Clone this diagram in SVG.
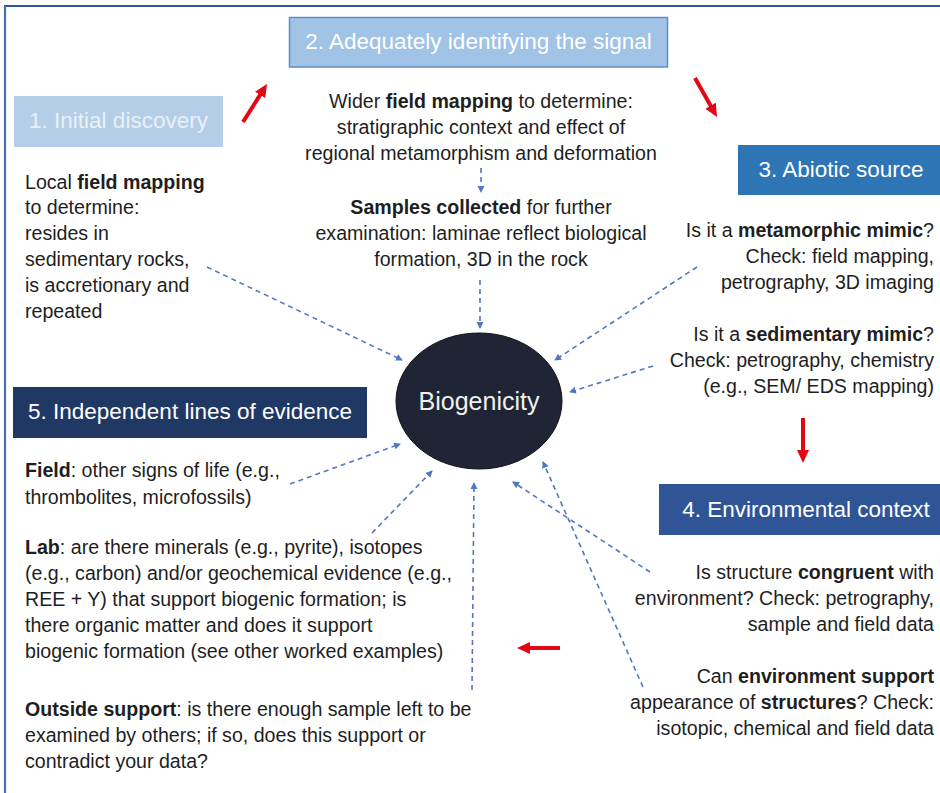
<svg xmlns="http://www.w3.org/2000/svg" width="940" height="793" viewBox="0 0 940 793">
<defs>
<style>
.t{font-family:"Liberation Sans",Arial,sans-serif;font-size:19.6px;fill:#1e1e1e}
.b{font-weight:bold}
.h{font-family:"Liberation Sans",Arial,sans-serif;font-size:22.5px;fill:#ffffff}
.c{text-anchor:middle}
.r{text-anchor:end}
.dash{stroke:#4f77c2;stroke-width:1.6;stroke-dasharray:5 4;fill:none}
.red{stroke:#e30613;stroke-width:4;fill:none}
</style>
<marker id="bh" markerUnits="userSpaceOnUse" markerWidth="8" markerHeight="8" refX="6" refY="3.5" orient="auto">
<path d="M0,0 L7,3.5 L0,7 z" fill="#4f77c2"/>
</marker>
<marker id="rh" markerUnits="userSpaceOnUse" markerWidth="14" markerHeight="13" refX="3" refY="6" orient="auto">
<path d="M0,0 L13,6 L0,12 z" fill="#e30613"/>
</marker>
</defs>
<rect width="940" height="793" fill="#ffffff"/>
<g id="frame">
<line x1="4" y1="6" x2="940" y2="6" stroke="#2f5597" stroke-width="2.2"/>
<line x1="5" y1="6" x2="5" y2="793" stroke="#4a6fb8" stroke-width="2.2"/>
</g>
<g id="connectors">
<line class="dash" x1="481" y1="168" x2="481" y2="192" marker-end="url(#bh)"/>
<line class="dash" x1="480" y1="280" x2="480" y2="328" marker-end="url(#bh)"/>
<line class="dash" x1="207" y1="267" x2="402" y2="360" marker-end="url(#bh)"/>
<line class="dash" x1="697" y1="267" x2="555" y2="360" marker-end="url(#bh)"/>
<line class="dash" x1="653" y1="366" x2="570" y2="392" marker-end="url(#bh)"/>
<line class="dash" x1="290" y1="484" x2="400" y2="444" marker-end="url(#bh)"/>
<line class="dash" x1="372" y1="533" x2="432" y2="471" marker-end="url(#bh)"/>
<line class="dash" x1="472" y1="690" x2="474" y2="483" marker-end="url(#bh)"/>
<line class="dash" x1="650" y1="572" x2="513" y2="482" marker-end="url(#bh)"/>
<line class="dash" x1="643" y1="687" x2="543" y2="462" marker-end="url(#bh)"/>
<line class="red" x1="243" y1="122" x2="261.7" y2="92.4" marker-end="url(#rh)"/>
<line class="red" x1="695" y1="78" x2="712.1" y2="108.3" marker-end="url(#rh)"/>
<line class="red" x1="803" y1="418" x2="803" y2="453" marker-end="url(#rh)"/>
<line class="red" x1="560" y1="648" x2="527" y2="648" marker-end="url(#rh)"/>
</g>
<g id="node1">
<rect x="14" y="96" width="209" height="51" fill="#b4cee8"/>
<text class="h c" x="118.5" y="128" style="fill:#e9f0f8">1. Initial discovery</text>
<text class="t" x="25" y="189">Local <tspan class="b">field mapping</tspan></text>
<text class="t" x="25" y="214">to determine:</text>
<text class="t" x="25" y="240">resides in</text>
<text class="t" x="25" y="266">sedimentary rocks,</text>
<text class="t" x="25" y="292">is accretionary and</text>
<text class="t" x="25" y="318">repeated</text>
</g>
<g id="node2">
<rect x="289.5" y="17.5" width="378" height="49.5" fill="#a0c3e6" stroke="#5f8dc6" stroke-width="1.5"/>
<text class="h c" x="478.5" y="49">2. Adequately identifying the signal</text>
<text class="t c" x="481" y="108">Wider <tspan class="b">field mapping</tspan> to determine:</text>
<text class="t c" x="481" y="134">stratigraphic context and effect of</text>
<text class="t c" x="481" y="160">regional metamorphism and deformation</text>
<text class="t c" x="481" y="214"><tspan class="b">Samples collected</tspan> for further</text>
<text class="t c" x="481" y="240">examination: laminae reflect biological</text>
<text class="t c" x="481" y="266">formation, 3D in the rock</text>
</g>
<g id="node3">
<rect x="738" y="145" width="202" height="50" fill="#2e75b6"/>
<text class="h c" x="841" y="177">3. Abiotic source</text>
<text class="t r" x="934" y="237">Is it a <tspan class="b">metamorphic mimic</tspan>?</text>
<text class="t r" x="934" y="263">Check: field mapping,</text>
<text class="t r" x="934" y="289">petrography, 3D imaging</text>
<text class="t r" x="934" y="341">Is it a <tspan class="b">sedimentary mimic</tspan>?</text>
<text class="t r" x="934" y="367">Check: petrography, chemistry</text>
<text class="t r" x="934" y="393">(e.g., SEM/ EDS mapping)</text>
</g>
<g id="node4">
<rect x="659" y="484" width="281" height="51" fill="#2f5597"/>
<text class="h c" x="806" y="517">4. Environmental context</text>
<text class="t r" x="934" y="579">Is structure <tspan class="b">congruent</tspan> with</text>
<text class="t r" x="934" y="605">environment? Check: petrography,</text>
<text class="t r" x="934" y="631">sample and field data</text>
<text class="t r" x="934" y="683">Can <tspan class="b">environment support</tspan></text>
<text class="t r" x="934" y="709">appearance of <tspan class="b">structures</tspan>? Check:</text>
<text class="t r" x="934" y="735">isotopic, chemical and field data</text>
</g>
<g id="node5">
<rect x="13" y="387" width="354" height="51" fill="#1f3864"/>
<text class="h c" x="190" y="419">5. Independent lines of evidence</text>
<text class="t" x="25" y="477"><tspan class="b">Field</tspan>: other signs of life (e.g.,</text>
<text class="t" x="25" y="504">thrombolites, microfossils)</text>
<text class="t" x="25" y="554"><tspan class="b">Lab</tspan>: are there minerals (e.g., pyrite), isotopes</text>
<text class="t" x="25" y="580">(e.g., carbon) and/or geochemical evidence (e.g.,</text>
<text class="t" x="25" y="606">REE + Y) that support biogenic formation; is</text>
<text class="t" x="25" y="632">there organic matter and does it support</text>
<text class="t" x="25" y="658">biogenic formation (see other worked examples)</text>
<text class="t" x="25" y="716"><tspan class="b">Outside support</tspan>: is there enough sample left to be</text>
<text class="t" x="25" y="742">examined by others; if so, does this support or</text>
<text class="t" x="25" y="768">contradict your data?</text>
</g>
<g id="biogenicity">
<ellipse cx="479" cy="401" rx="83" ry="68" fill="#1f2534" stroke="#111" stroke-width="1"/>
<text class="c" x="479" y="410" style="font-family:'Liberation Sans',Arial,sans-serif;font-size:25px;fill:#f0f0f0">Biogenicity</text>
</g>
</svg>
